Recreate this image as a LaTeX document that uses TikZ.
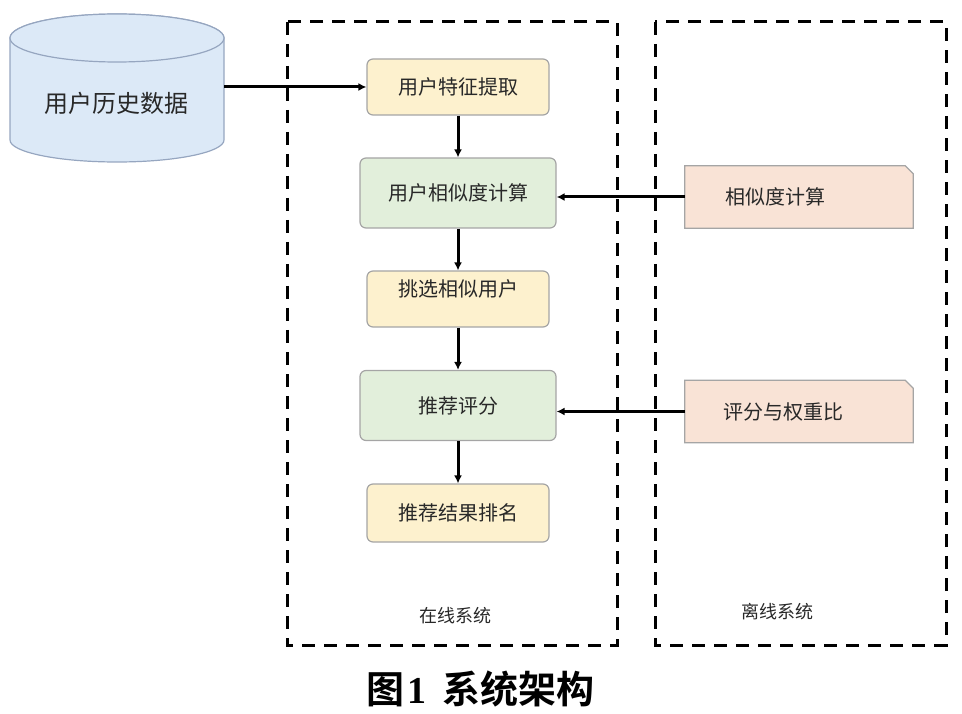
\documentclass[tikz,border=0pt]{standalone}
\usepackage{fontspec}
\setmainfont{Liberation Serif}
\newfontfamily\cjk{Noto Sans CJK SC}
\newfontfamily\cjkb{Noto Sans CJK SC Bold}
\usetikzlibrary{arrows.meta}
\definecolor{yfill}{RGB}{253,241,206}
\definecolor{gfill}{RGB}{226,239,219}
\definecolor{pfill}{RGB}{249,227,214}
\definecolor{bfill}{RGB}{220,233,247}
\definecolor{bdraw}{RGB}{150,166,192}
\definecolor{gdraw}{RGB}{165,165,165}
\definecolor{txt}{RGB}{40,40,40}
\tikzset{
  proc/.style={draw=gdraw, line width=1.2pt, rounded corners=6pt, inner sep=0pt,
    font=\cjk\fontsize{20}{22}\selectfont, text=txt},
  ybox/.style={proc, fill=yfill, minimum width=182pt, minimum height=56pt},
  gbox/.style={proc, fill=gfill, minimum width=196pt, minimum height=70pt},
  notebox/.style={inner sep=0pt, minimum width=228pt, minimum height=62pt},
  noteshape/.style={draw=gdraw, line width=1.2pt, fill=pfill},
  notetext/.style={font=\cjk\fontsize{20}{22}\selectfont, text=txt},
  arr/.style={line width=3pt, -{Latex[length=8pt,width=8pt]}},
  sysbox/.style={draw=black, line width=3pt, dash pattern=on 13pt off 9pt},
  syslabel/.style={font=\cjk\fontsize{18}{20}\selectfont, text=txt},
}
\begin{document}
\begin{tikzpicture}[x=1pt,y=-1pt]
\useasboundingbox (0,0) rectangle (962,714);
% system boxes
\draw[sysbox] (287,22) rectangle (617,645);
\draw[sysbox] (655,22) rectangle (946,645);
\node[syslabel] (on) at (455,616) {在线系统};
\node[syslabel] (off) at (777,612) {离线系统};
% cylinder
\draw[draw=bdraw, line width=1.2pt, fill=bfill]
  (10,38) -- (10,140) arc[start angle=180, end angle=0, x radius=107, y radius=22]
  -- (224,38) arc[start angle=0, end angle=-180, x radius=107, y radius=24] -- cycle;
\draw[draw=bdraw, line width=1.2pt, fill=bfill]
  (117,38) ellipse[x radius=107, y radius=24];
\node[minimum width=214pt, minimum height=30pt, inner sep=0pt,
  font=\cjk\fontsize{24}{26}\selectfont, text=txt] (db) at (117,103) {用户历史数据};
% process boxes
\node[ybox] (f1) at (458,87) {用户特征提取};
\node[gbox] (f2) at (458,193) {用户相似度计算};
\node[ybox, text depth=22pt] (f3) at (458,299) {挑选相似用户};
\node[gbox] (f4) at (458,405.5) {推荐评分};
\node[ybox, minimum height=58pt] (f5) at (458,513) {推荐结果排名};
% notes
\node[notebox] (n1) at (799,197) {};
\draw[noteshape] (n1.south west) -- (n1.north west) -- ([xshift=-8pt]n1.north east)
  -- ([yshift=-8pt]n1.north east) -- (n1.south east) -- cycle;
\node[notetext] (t1) at (775,197) {相似度计算};
\node[notebox] (n2) at (799,411.5) {};
\draw[noteshape] (n2.south west) -- (n2.north west) -- ([xshift=-8pt]n2.north east)
  -- ([yshift=-8pt]n2.north east) -- (n2.south east) -- cycle;
\node[notetext] (t2) at (783,412) {评分与权重比};
% connectors
\draw[arr] (db.east |- f1.west) -- (f1.west);
\draw[arr] (f1.south) -- (f2.north);
\draw[arr] (f2.south) -- (f3.north);
\draw[arr] (f3.south) -- (f4.north);
\draw[arr] (f4.south) -- (f5.north);
\draw[arr] (n1.west) -- (f2.east |- n1.west);
\draw[arr] (n2.west) -- (f4.east |- n2.west);
% caption
\node[font=\fontsize{38}{40}\selectfont, text=black] (cap) at (480,689)
  {{\cjkb 图}\hspace{3pt}\textbf{1}\hspace{16pt}{\cjkb 系统架构}};
\end{tikzpicture}
\end{document}
